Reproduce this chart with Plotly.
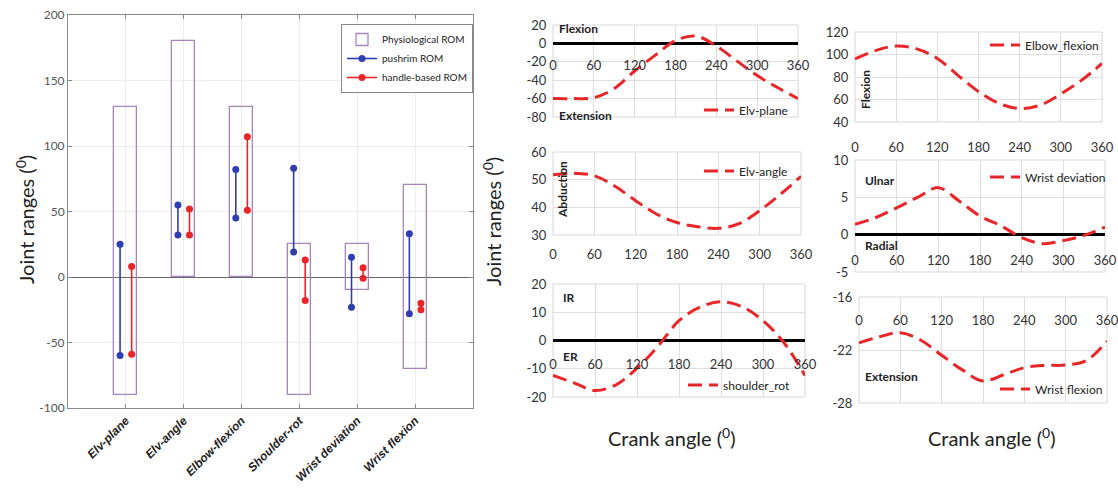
import plotly.graph_objects as go

W, H = 1118, 500

# ---------------- data: left panel ----------------
joints = ["Elv-plane", "Elv-angle", "Elbow-flexion", "Shoulder-rot", "Wrist deviation", "Wrist flexion"]
phys_min = [-90, 0, 0, -90, -10, -70]
phys_max = [130, 180, 130, 25, 25, 70]
push_max = [25, 55, 82, 83, 15, 33]
push_min = [-60, 32, 45, 19, -23, -28]
hand_max = [8, 52, 107, 13, 7, -20]
hand_min = [-59, 32, 51, -18, -1, -25]
left_yticks = [-100, -50, 0, 50, 100, 150, 200]

# ---------------- data: right panels ----------------
crank = [0, 30, 60, 90, 120, 150, 180, 210, 240, 270, 300, 330, 360]
elv_plane = [-60, -60, -59, -49, -30, -13, 3, 8, -3, -19, -35, -48, -60]
elv_angle = [51.8, 52.3, 51.4, 47.6, 42.4, 37.6, 34.5, 33.0, 32.4, 34.1, 38.8, 44.7, 51.2]
shoulder_rot = [-12.4, -15.0, -17.7, -15.7, -9.8, -2.0, 7.0, 11.8, 13.7, 12.0, 7.0, -0.8, -12.4]
elbow_flexion = [96, 103.5, 107.5, 105, 96.5, 81.5, 67, 56.5, 52, 55, 65, 77, 92]
wrist_dev = [1.4, 2.3, 3.6, 5.0, 6.3, 4.5, 2.5, 1.2, -0.4, -1.2, -0.8, -0.1, 1.0]
wrist_flex = [-21.2, -20.5, -20.05, -20.9, -22.6, -24.25, -25.5, -24.8, -24.0, -23.75, -23.7, -23.2, -21.0]
crank_ticks = [0, 60, 120, 180, 240, 300, 360]


def px(x):
    return x / W


def py(y):
    return 1 - y / H


def ticks_between(lo, hi, step):
    vals = []
    v = lo
    while v <= hi + 1e-9:
        vals.append(v)
        v += step
    return vals


PURPLE = "#a684bd"
BLUE = "#2f3db0"
RED = "#e8262a"
GRID = "#dedede"
FONT = "Lato"

fig = go.Figure()

# ---------------- left panel ----------------
pos = list(range(1, len(joints) + 1))
fig.add_trace(go.Bar(
    x=pos, y=[a - b for a, b in zip(phys_max, phys_min)], base=phys_min, width=0.4,
    marker=dict(color="rgba(0,0,0,0)", line=dict(color=PURPLE, width=1.3)),
    name="Physiological ROM", xaxis="x", yaxis="y", legend="legend"))


def dumbbell(offset, tops, bots):
    xs, ys = [], []
    for p, t, b in zip(pos, tops, bots):
        xs += [p + offset, p + offset, None]
        ys += [t, b, None]
    return xs, ys


bx, by = dumbbell(-0.1, push_max, push_min)
fig.add_trace(go.Scatter(x=bx, y=by, mode="lines+markers", name="pushrim ROM",
                         line=dict(color=BLUE, width=1.6), marker=dict(color=BLUE, size=7),
                         xaxis="x", yaxis="y", legend="legend"))
rx, ry = dumbbell(0.1, hand_max, hand_min)
fig.add_trace(go.Scatter(x=rx, y=ry, mode="lines+markers", name="handle-based ROM",
                         line=dict(color=RED, width=1.6), marker=dict(color=RED, size=7),
                         xaxis="x", yaxis="y", legend="legend"))

layout = dict(
    width=W, height=H, margin=dict(l=0, r=0, t=0, b=0, autoexpand=False),
    paper_bgcolor="white", plot_bgcolor="white",
    font=dict(family=FONT, color="#222"),
    xaxis=dict(domain=[px(68), px(473)], range=[0, 7], tickmode="array", tickvals=pos,
               ticktext=joints, tickangle=-45, automargin=False,
               tickfont=dict(family="Liberation Sans", size=12, color="#222", weight="bold", style="italic"),
               showgrid=True, gridcolor="#ececec", showline=True, linecolor="#8a8a8a", mirror="ticks",
               ticks="inside", ticklen=4, tickcolor="#8a8a8a", zeroline=False, anchor="y"),
    yaxis=dict(domain=[py(408), py(15)], range=[-100, 200], tickmode="array", tickvals=left_yticks,
               ticktext=[str(v) for v in left_yticks], automargin=False,
               tickfont=dict(size=12, color="#555"), showgrid=True, gridcolor="#ececec",
               showline=True, linecolor="#8a8a8a", mirror="ticks", ticks="inside", ticklen=4,
               tickcolor="#8a8a8a", zeroline=True, zerolinecolor="#666", zerolinewidth=1, anchor="x"),
    legend=dict(x=px(341), y=py(24), xanchor="left", yanchor="top", bordercolor="#888",
                borderwidth=1, bgcolor="white", font=dict(size=10, color="#222"),
                tracegroupgap=0, itemwidth=30),
    showlegend=True,
    bargap=0,
)

big = dict(xref="paper", yref="paper", showarrow=False, xanchor="center", yanchor="middle",
           font=dict(size=20, color="#222"))
annotations = [
    dict(big, text="Joint ranges (<sup>0</sup>)", x=px(25), y=py(220), textangle=-90),
    dict(big, text="Joint ranges (<sup>0</sup>)", x=px(492), y=py(222), textangle=-90),
    dict(big, text="Crank angle (<sup>0</sup>)", x=px(672), y=py(437)),
    dict(big, text="Crank angle (<sup>0</sup>)", x=px(992), y=py(437)),
]
shapes = []

# ---------------- right panels ----------------
# (series, name, x domain px, y domain px (bottom, top), y range, dtick, label mode, ticklen, legend pos)
panels = [
    (elv_plane, "Elv-plane", (553, 798), (117, 25), (-80, 20), 20, "zero", 10, (702, 110)),
    (elv_angle, "Elv-angle", (553, 801), (235, 152), (30, 60), 10, "bottom", 7, (702, 171)),
    (shoulder_rot, "shoulder_rot", (553, 805), (397, 284), (-20, 20), 10, "zero", 12, (686, 385)),
    (elbow_flexion, "Elbow_flexion", (855, 1102), (122, 32), (40, 120), 20, "bottom", 13, (988, 45)),
    (wrist_dev, "Wrist deviation", (855, 1105), (272, 160), (-5, 10), 5, "zero", 14, (988, 177)),
    (wrist_flex, "Wrist flexion", (859, 1107), (403, 297), (-28, -16), 6, "top", 11, (998, 389)),
]

for i, (ser, name, xd, yd, yr, dt, mode, tl, lg) in enumerate(panels):
    k = i + 2
    xa, ya = f"x{k}", f"y{k}"
    fig.add_trace(go.Scatter(
        x=crank, y=ser, mode="lines", name=name,
        line=dict(color=RED, width=3, dash="14px,7px", shape="spline", smoothing=1.0),
        xaxis=xa, yaxis=ya, legend=f"legend{k}"))
    y0, y1 = py(yd[0]), py(yd[1])
    if mode == "zero":
        p = y0 + (0 - yr[0]) / (yr[1] - yr[0]) * (y1 - y0)
    elif mode == "top":
        p = y1
    else:
        p = y0
    yt = ticks_between(yr[0], yr[1], dt)
    layout[f"xaxis{k}"] = dict(
        domain=[px(xd[0]), px(xd[1])], range=[0, 360], tickmode="array", tickvals=crank_ticks,
        anchor="free", position=p, side="bottom", showline=False, zeroline=False, automargin=False,
        showgrid=True, gridcolor=GRID, ticks="outside", ticklen=tl, tickcolor="rgba(0,0,0,0)",
        ticklabeloverflow="allow", tickfont=dict(size=13, color="#333"))
    layout[f"yaxis{k}"] = dict(
        domain=[y0, y1], range=list(yr), tickmode="array", tickvals=yt, ticktext=[str(v) for v in yt],
        anchor=xa, showgrid=True, gridcolor=GRID, automargin=False,
        showline=False, ticks="outside", ticklen=3, tickcolor="rgba(0,0,0,0)",
        ticklabeloverflow="allow", tickfont=dict(size=13, color="#333"),
        zeroline=(yr[0] < 0 < yr[1]), zerolinecolor="black", zerolinewidth=2.5)
    layout[f"legend{k}"] = dict(x=px(lg[0] - 3), y=py(lg[1]), xanchor="left", yanchor="middle",
                                bgcolor="rgba(0,0,0,0)", borderwidth=0,
                                font=dict(size=12, color="#222"))
    shapes.append(dict(type="rect", xref=f"{xa} domain", yref=f"{ya} domain", x0=0, x1=1, y0=0, y1=1,
                       line=dict(color="#d6d6d6", width=1), layer="below"))

# in-plot region labels
lab = dict(xref="paper", yref="paper", showarrow=False, xanchor="left", yanchor="middle",
           font=dict(size=12, color="#222", weight="bold"))
for txt, x, y in [("Flexion", 557, 28), ("Extension", 557, 116), ("IR", 561, 297), ("ER", 561, 356),
                  ("Ulnar", 863, 180), ("Radial", 863, 245), ("Extension", 863, 376)]:
    annotations.append(dict(lab, text=txt, x=px(x), y=py(y)))
for txt, x, y in [("Abduction", 562, 190), ("Flexion", 866, 90)]:
    d = dict(lab, text=txt, x=px(x), y=py(y), textangle=-90)
    d["xanchor"] = "center"
    annotations.append(d)

layout["annotations"] = annotations
layout["shapes"] = shapes
fig.update_layout(**layout)

fig.write_html("out.html", config={"displayModeBar": False},
               post_script="document.body.style.margin='0';document.body.style.overflow='hidden';")
